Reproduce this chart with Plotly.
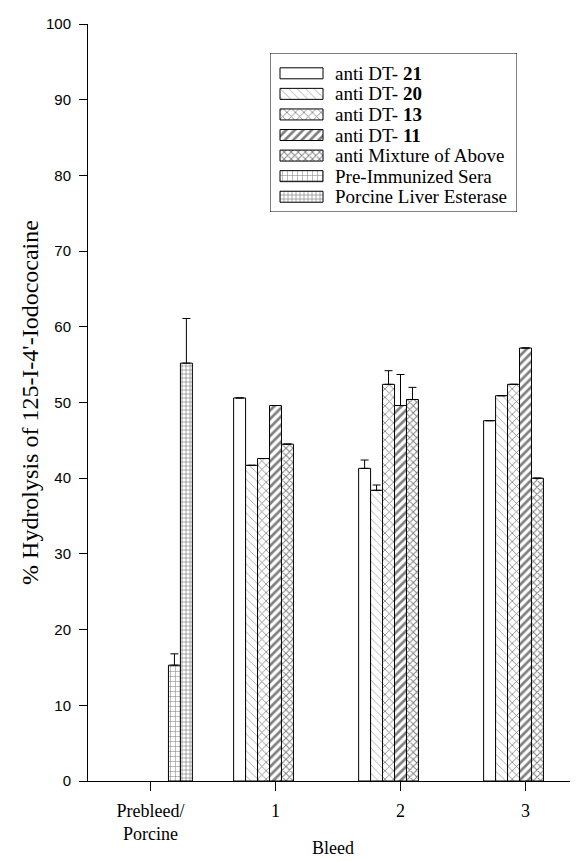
import plotly.graph_objects as go

categories = ["Prebleed/<br>Porcine", "1", "2", "3"]

series_names = [
    "anti DT- <b>21</b>",
    "anti DT- <b>20</b>",
    "anti DT- <b>13</b>",
    "anti DT- <b>11</b>",
    "anti Mixture of Above",
    "Pre-Immunized Sera",
    "Porcine Liver Esterase",
]

dt21 = [None, 50.6, 41.3, 47.6]
dt20 = [None, 41.7, 38.4, 50.9]
dt13 = [None, 42.6, 52.4, 52.4]
dt11 = [None, 49.6, 49.6, 57.2]
mixture = [None, 44.5, 50.4, 40.0]
pre_immunized = [15.3, None, None, None]
porcine = [55.2, None, None, None]

dt21_err = [None, None, 1.1, None]
dt20_err = [None, None, 0.7, None]
dt13_err = [None, None, 1.8, None]
dt11_err = [None, None, 4.1, None]
mixture_err = [None, None, 1.6, None]
pre_immunized_err = [1.5, None, None, None]
porcine_err = [5.9, None, None, None]

values = [dt21, dt20, dt13, dt11, mixture, pre_immunized, porcine]
errors = [dt21_err, dt20_err, dt13_err, dt11_err, mixture_err, pre_immunized_err, porcine_err]

pattern_shapes = ["", "\\", "x", "/", "x", "+", "+"]
pattern_sizes = [6, 6, 6, 6, 5, 5, 4]
pattern_solidity = [0.2, 0.15, 0.25, 0.45, 0.35, 0.2, 0.3]
pattern_fg = ["black", "#555555", "black", "black", "black", "black", "black"]

serif = "Liberation Serif, Times New Roman, serif"
sans = "Liberation Sans, Arial, sans-serif"

fig = go.Figure()
for i, (name, vals, errs) in enumerate(zip(series_names, values, errors)):
    fig.add_trace(go.Bar(
        name=name,
        x=categories,
        y=vals,
        showlegend=False,
        marker=dict(color="white", line=dict(color="black", width=1),
                    pattern=dict(shape=pattern_shapes[i], size=pattern_sizes[i],
                                 solidity=pattern_solidity[i], fgcolor=pattern_fg[i],
                                 bgcolor="white")),
        error_y=dict(type="data", symmetric=False, array=errs,
                     arrayminus=[0 if e is not None else None for e in errs],
                     color="black", thickness=1, width=4),
    ))

# ---- legend box drawn on its own small axes (pixel-like units, origin top-left of box)
box_w, box_h = 247, 159
row_first, row_step = 20.3, 20.57
swatch_left, swatch_len, swatch_thick = 10, 43, 11
text_left = 63
rows = [row_first + k * row_step for k in range(len(series_names))]

fig.add_trace(go.Bar(
    x=[swatch_len] * len(series_names), y=rows, base=swatch_left,
    orientation="h", width=swatch_thick, showlegend=False, hoverinfo="skip",
    xaxis="x2", yaxis="y2",
    marker=dict(color="white", line=dict(color="black", width=1),
                pattern=dict(shape=pattern_shapes, size=pattern_sizes,
                             solidity=pattern_solidity, fgcolor=pattern_fg,
                             bgcolor="white")),
))

annotations = [dict(
    text=n, xref="x2", yref="y2", x=text_left, y=r, xanchor="left", yanchor="middle",
    showarrow=False, font=dict(family=serif, size=19, color="black"),
) for n, r in zip(series_names, rows)]

annotations.append(dict(
    text="Bleed", xref="paper", yref="paper", x=0.5, y=-0.089,
    xanchor="center", yanchor="middle", showarrow=False,
    font=dict(family=serif, size=18, color="black"),
))

# page body has an 8px default margin, so the figure is sized 8px smaller
fig.update_layout(
    width=570, height=853,
    margin=dict(l=80, r=0, t=16, b=80),
    paper_bgcolor="white", plot_bgcolor="white",
    barmode="group", bargap=0.33, bargroupgap=0,
    showlegend=False,
    xaxis=dict(
        type="category", categoryorder="array", categoryarray=categories,
        range=[-0.5, 3.42],
        showline=True, linecolor="black", linewidth=1,
        ticks="outside", ticklen=9, tickcolor="black", ticklabelstandoff=4,
        tickfont=dict(family=serif, size=18, color="black"),
        showgrid=False, zeroline=False,
        automargin=False,
    ),
    yaxis=dict(
        range=[0, 100], tickmode="linear", tick0=0, dtick=10,
        showline=True, linecolor="black", linewidth=1,
        ticks="outside", ticklen=8, tickcolor="black", ticklabelstandoff=5,
        tickfont=dict(family=sans, size=15, color="black"),
        showgrid=False, zeroline=False,
        title=dict(text="% Hydrolysis of 125-I-4'-Iodococaine",
                   font=dict(family=serif, size=24, color="black"), standoff=0),
        automargin=False,
    ),
    xaxis2=dict(domain=[182 / 490, 429 / 490], range=[0, box_w], anchor="y2",
                visible=False, fixedrange=True),
    yaxis2=dict(domain=[569 / 757, 728 / 757], range=[box_h, 0], anchor="x2",
                visible=False, fixedrange=True),
    shapes=[dict(type="rect", xref="x2", yref="y2", x0=0, x1=box_w, y0=0, y1=box_h,
                 line=dict(color="black", width=1), fillcolor="white", layer="below")],
    annotations=annotations,
)

fig.write_html("out.html")
